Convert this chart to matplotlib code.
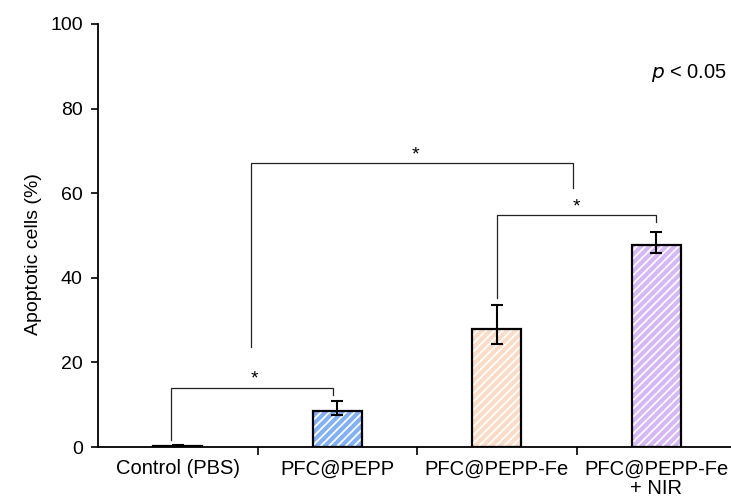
import matplotlib
matplotlib.use("Agg")
import matplotlib.pyplot as plt
import numpy as np

categories = ["Control (PBS)", "PFC@PEPP", "PFC@PEPP-Fe", "PFC@PEPP-Fe\n+ NIR"]
values = [0.3, 8.6, 27.9, 47.8]
err_low = [0.1, 1.1, 3.6, 2.0]
err_high = [0.2, 2.3, 5.7, 3.1]
colors = ["#ffffff", "#82b1f5", "#fddcc7", "#d6b7f7"]
yticks = [0, 20, 40, 60, 80, 100]

# significance brackets: (x_left, x_right, y_top, y_left_bottom, y_right_bottom, star_x, star_y)
brackets = [
    (-0.04, 0.975, 13.9, 1.6, 12.3, 0.48, 16.0),
    (0.46, 2.48, 67.1, 23.7, 61.3, 1.49, 69.0),
    (2.0, 3.0, 54.8, 35.2, 53.3, 2.5, 56.7),
]

plt.rcParams['font.family'] = ['Liberation Sans', 'DejaVu Sans']
plt.rcParams['hatch.linewidth'] = 1.3
plt.rcParams['hatch.color'] = 'white'

fig = plt.figure(figsize=(7.31, 5.04), dpi=100)
ax = fig.add_axes([98/731, 57/504, 638/731, 423/504])

x = np.arange(len(categories))
w = 0.31
ax.bar(x, values, width=w, color=colors, edgecolor='white', hatch='////', linewidth=0, zorder=2)
ax.bar(x, values, width=w, fill=False, edgecolor='black', linewidth=1.6, zorder=3)
ax.errorbar(x, values, yerr=[err_low, err_high], fmt='none', ecolor='black',
            elinewidth=1.5, capsize=4, capthick=1.5, zorder=4)

for xl, xr, yt, ylb, yrb, sx, sy in brackets:
    ax.plot([xl, xl, xr, xr], [ylb, yt, yt, yrb], color='#222222', lw=0.9,
            solid_joinstyle='miter', zorder=1)
    ax.text(sx, sy, '*', ha='center', va='center', fontsize=14)

ax.text(3.445, 88.5, r'$p$ < 0.05', ha='right', va='center', fontsize=14.5)

ax.set_xlim(-0.5, 3.5)
ax.set_ylim(0, 100)
ax.set_yticks(yticks)
ax.set_yticklabels([str(t) for t in yticks], fontsize=14)
ax.set_xticks(x)
ax.set_xticklabels(categories, fontsize=14.5, linespacing=1.05)
ax.set_xticks([0.5, 1.5, 2.5], minor=True)
ax.tick_params(axis='x', which='major', length=0, pad=9)
ax.tick_params(axis='x', which='minor', length=6, width=1.2, direction='out')
ax.tick_params(axis='y', length=5, width=1.2, direction='out', pad=6)

for s in ['top', 'right']:
    ax.spines[s].set_visible(False)
for s in ['left', 'bottom']:
    ax.spines[s].set_linewidth(1.3)

ax.set_ylabel('Apoptotic cells (%)', fontsize=14)
ax.yaxis.set_label_coords(-0.088, 0.455)

fig.savefig('out.png', dpi=100)
